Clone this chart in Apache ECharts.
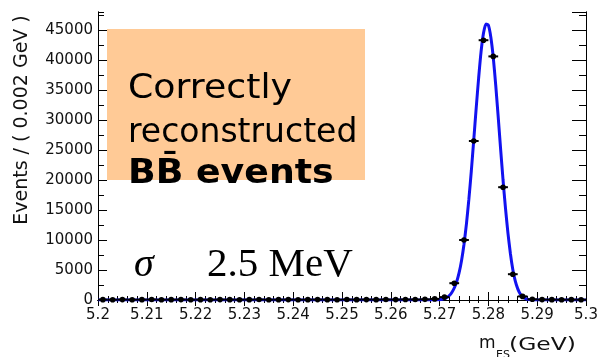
<!DOCTYPE html>
<html>
<head>
<meta charset="utf-8">
<script src="https://cdn.jsdelivr.net/npm/echarts@6/dist/echarts.min.js"></script>
<style>
  html, body { margin: 0; padding: 0; background: #ffffff; }
  #chart { width: 601px; height: 357px; }
</style>
</head>
<body>
<div id="chart"></div>
<script>
// Histogram bin centres (bin width 0.002 GeV) and event counts per bin
const binCenters = [
  5.201, 5.203, 5.205, 5.207, 5.209, 5.211, 5.213, 5.215, 5.217, 5.219,
  5.221, 5.223, 5.225, 5.227, 5.229, 5.231, 5.233, 5.235, 5.237, 5.239,
  5.241, 5.243, 5.245, 5.247, 5.249, 5.251, 5.253, 5.255, 5.257, 5.259,
  5.261, 5.263, 5.265, 5.267, 5.269, 5.271, 5.273, 5.275, 5.277, 5.279,
  5.281, 5.283, 5.285, 5.287, 5.289, 5.291, 5.293, 5.295, 5.297, 5.299
];
const binCounts = [
  60, 40, 70, 50, 60, 80, 50, 60, 70, 40,
  60, 50, 70, 60, 50, 60, 80, 50, 60, 70,
  50, 60, 70, 60, 50, 80, 60, 70, 60, 80,
  70, 90, 80, 110, 180, 480, 2800, 10000, 26500, 43300,
  40600, 18800, 4300, 600, 120, 70, 60, 50, 60, 50
];
const binHalfWidth = 0.001;

// Fitted signal shape, sampled along m_ES
const fitX = [
  5.200, 5.268, 5.269, 5.2700, 5.2705, 5.2710, 5.2715, 5.2720, 5.2725, 5.2730,
  5.2735, 5.2740, 5.2745, 5.2750, 5.2755, 5.2760, 5.2765, 5.2770, 5.2775, 5.2780,
  5.2785, 5.2790, 5.2795, 5.2800, 5.2805, 5.2810, 5.2815, 5.2820, 5.2825, 5.2830,
  5.2835, 5.2840, 5.2845, 5.2850, 5.2855, 5.2860, 5.2865, 5.2870, 5.2875, 5.2880,
  5.2885, 5.2890, 5.2900, 5.300
];
const fitY = [
  0, 0, 20, 60, 120, 230, 420, 750, 1250, 2000,
  3050, 4550, 6600, 9300, 12700, 16800, 21500, 26700, 32000, 37000,
  41400, 44500, 46000, 45800, 43800, 40400, 35800, 30600, 25200, 20000,
  15300, 11200, 7800, 5100, 3200, 1900, 1050, 550, 270, 120,
  50, 20, 0, 0
];

// Axis tick labels
const xTickLabels = ['5.2', '5.21', '5.22', '5.23', '5.24', '5.25', '5.26', '5.27', '5.28', '5.29', '5.3'];
const yTickLabels = ['0', '5000', '10000', '15000', '20000', '25000', '30000', '35000', '40000', '45000'];

const X_MIN = 5.2, X_MAX = 5.3, Y_MIN = 0, Y_MAX = 48000;
const tickFont = { fontFamily: 'DejaVu Sans', fontSize: 15, color: '#111' };
const frameLine = { show: true, lineStyle: { color: '#000', width: 1 } };

function xLabel(v) {
  const s = String(parseFloat(v.toFixed(3)));
  return xTickLabels.indexOf(s) >= 0 ? s : '';
}
function yLabel(v) {
  const s = String(Math.round(v));
  return yTickLabels.indexOf(s) >= 0 ? s : '';
}

function makeX(position, interval, tickLen, labels) {
  return {
    type: 'value', position: position, min: X_MIN, max: X_MAX, interval: interval,
    axisLine: frameLine,
    axisTick: { show: true, inside: true, length: tickLen, lineStyle: { color: '#000', width: 1 } },
    axisLabel: labels ? Object.assign({ show: true, margin: 8, formatter: xLabel }, tickFont) : { show: false },
    splitLine: { show: false }
  };
}
function makeY(position, interval, tickLen, labels) {
  return {
    type: 'value', position: position, min: Y_MIN, max: Y_MAX, interval: interval,
    axisLine: frameLine,
    axisTick: { show: true, inside: true, length: tickLen, lineStyle: { color: '#000', width: 1 } },
    axisLabel: labels ? Object.assign({ show: true, margin: 5, formatter: yLabel, showMaxLabel: false }, tickFont) : { show: false },
    splitLine: { show: false }
  };
}

const chart = echarts.init(document.getElementById('chart'), null, { renderer: 'canvas' });

const option = {
  backgroundColor: '#ffffff',
  animation: false,
  grid: { left: 98, top: 12, width: 488, height: 288, containLabel: false },
  xAxis: [
    makeX('bottom', 0.01, 8, true),
    makeX('bottom', 0.002, 4, false),
    makeX('top', 0.01, 6, false),
    makeX('top', 0.002, 3, false)
  ],
  yAxis: [
    makeY('left', 5000, 9, true),
    makeY('left', 2500, 6, false),
    makeY('right', 5000, 14, false),
    makeY('right', 2500, 7, false)
  ],
  series: [
    {
      name: 'fit',
      type: 'line',
      xAxisIndex: 0, yAxisIndex: 0,
      data: fitX.map((x, i) => [x, fitY[i]]),
      showSymbol: false,
      smooth: 0.2,
      lineStyle: { color: '#1212f0', width: 3 },
      z: 3
    },
    {
      name: 'data',
      type: 'custom',
      xAxisIndex: 0, yAxisIndex: 0,
      data: binCenters.map((x, i) => [x, binCounts[i]]),
      renderItem: function (params, api) {
        const x = api.value(0), y = api.value(1);
        const c = api.coord([x, y]);
        const l = api.coord([x - binHalfWidth, y]);
        const r = api.coord([x + binHalfWidth, y]);
        return {
          type: 'group',
          children: [
            { type: 'line', shape: { x1: l[0], y1: l[1], x2: r[0], y2: r[1] },
              style: { stroke: '#000', lineWidth: 2 } },
            { type: 'circle', shape: { cx: c[0], cy: c[1], r: 2.8 },
              style: { fill: '#000' } }
          ]
        };
      },
      z: 4
    }
  ],
  graphic: [
    {
      type: 'text', x: 22, y: 120, rotation: Math.PI / 2,
      style: { text: 'Events / ( 0.002 GeV )', fontFamily: 'DejaVu Sans', fontSize: 19,
               fill: '#111', align: 'center', verticalAlign: 'middle' }
    },
    {
      type: 'text', x: 479, y: 352,
      style: { text: 'm', fontFamily: 'DejaVu Sans', fontSize: 17, fill: '#111',
               align: 'left', verticalAlign: 'bottom' }
    },
    {
      type: 'text', x: 496, y: 361,
      style: { text: 'ES', fontFamily: 'DejaVu Sans', fontSize: 11, fill: '#111',
               align: 'left', verticalAlign: 'bottom' }
    },
    {
      type: 'text', x: 509, y: 354, scaleX: 1.38,
      style: { text: '(GeV)', fontFamily: 'DejaVu Sans', fontSize: 17, fill: '#111',
               align: 'left', verticalAlign: 'bottom' }
    },
    {
      type: 'rect', shape: { x: 107, y: 29, width: 258, height: 151 },
      style: { fill: '#ffca96' }, z: 10
    },
    {
      type: 'text', x: 128, y: 73, z: 11, scaleX: 1.1,
      style: { text: 'Correctly', fontFamily: 'DejaVu Sans', fontSize: 33, fill: '#000',
               align: 'left', verticalAlign: 'alphabetic' }
    },
    {
      type: 'text', x: 128, y: 117, z: 11,
      style: { text: 'reconstructed', fontFamily: 'DejaVu Sans', fontSize: 33, fill: '#000',
               align: 'left', verticalAlign: 'alphabetic' }
    },
    {
      type: 'text', x: 128, y: 158, z: 11, scaleX: 1.1,
      style: { text: 'BB\u0304 events', fontFamily: 'DejaVu Sans', fontWeight: 'bold', fontSize: 33,
               fill: '#000', align: 'left', verticalAlign: 'alphabetic' }
    },
    {
      type: 'text', x: 134, y: 245, z: 11,
      style: { text: '\u03c3', fontFamily: 'Liberation Serif', fontStyle: 'italic', fontSize: 40,
               fill: '#000', align: 'left', verticalAlign: 'alphabetic' }
    },
    {
      type: 'text', x: 207, y: 245, z: 11,
      style: { text: '2.5 MeV', fontFamily: 'Liberation Serif', fontSize: 41,
               fill: '#000', align: 'left', verticalAlign: 'alphabetic' }
    }
  ]
};

chart.setOption(option);
</script>
</body>
</html>
